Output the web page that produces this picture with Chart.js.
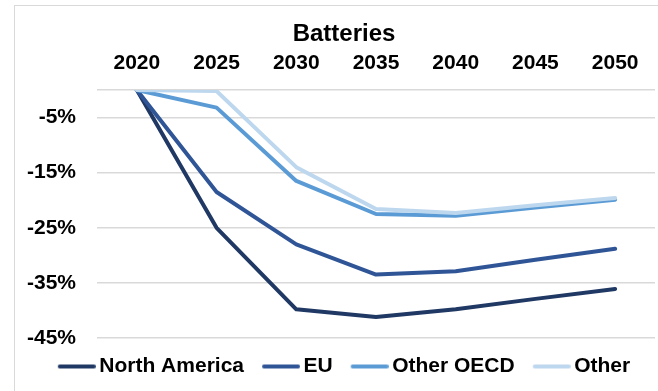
<!DOCTYPE html>
<html>
<head>
<meta charset="utf-8">
<script src="https://cdn.jsdelivr.net/npm/chart.js@4/dist/chart.umd.min.js"></script>
<style>
  html, body { margin: 0; padding: 0; background: #ffffff; }
  #wrap { position: relative; width: 658px; height: 391px; overflow: hidden; }
  #frame { position: absolute; left: 14px; top: 5px; width: 700px; height: 500px; border: 1.5px solid #d9d9d9; box-sizing: border-box; }
  #c { position: absolute; left: 0; top: 0; }
</style>
</head>
<body>
<div id="wrap">
  <div id="frame"></div>
  <canvas id="c" width="668" height="391"></canvas>
</div>
<script>
const chartTitle = 'Batteries';
const years = ['2020', '2025', '2030', '2035', '2040', '2045', '2050'];
const seriesNames = ['North America', 'EU', 'Other OECD', 'Other'];
const northAmerica = [0, -25, -39.8, -41.2, -39.8, -37.9, -36.1];
const eu = [0, -18.5, -28.0, -33.5, -32.9, -30.8, -28.8];
const otherOECD = [0, -3.2, -16.5, -22.5, -22.8, -21.3, -19.9];
const other = [0, -0.2, -14.0, -21.6, -22.3, -20.9, -19.6];
const yTicks = [-45, -35, -25, -15, -5, 0];

const colors = ['#203864', '#2f5597', '#5b9bd5', '#bdd7ee'];
const FONT = '"Liberation Sans", Arial, sans-serif';

function legendLine(color) {
  const cv = document.createElement('canvas');
  cv.width = 45; cv.height = 6;
  const g = cv.getContext('2d');
  g.strokeStyle = color;
  g.lineWidth = 4;
  g.lineCap = 'round';
  g.beginPath();
  g.moveTo(9, 3);
  g.lineTo(43, 3);
  g.stroke();
  return cv;
}
const legendImgs = colors.map(legendLine);

const seriesData = [northAmerica, eu, otherOECD, other];
const datasets = seriesData.map((d, i) => ({
  label: seriesNames[i],
  data: d,
  borderColor: colors[i],
  backgroundColor: colors[i],
  borderWidth: 4,
  pointRadius: 0,
  tension: 0,
  fill: false,
  borderCapStyle: 'round',
  borderJoinStyle: 'round',
  order: 3 - i
}));

new Chart(document.getElementById('c'), {
  type: 'line',
  data: { labels: years, datasets: datasets },
  options: {
    responsive: false,
    animation: false,
    events: [],
    layout: { padding: { left: 20, right: 0, top: 0, bottom: 4 } },
    plugins: {
      title: {
        display: true,
        text: chartTitle,
        color: '#000000',
        font: { family: FONT, size: 24, weight: 'bold' },
        padding: { top: 20, bottom: 0 }
      },
      legend: {
        display: true,
        position: 'bottom',
        labels: {
          usePointStyle: true,
          pointStyleWidth: 31,
          padding: 18,
          color: '#000000',
          font: { family: FONT, size: 21, weight: 'bold' },
          sort: (a, b) => a.datasetIndex - b.datasetIndex,
          generateLabels: (chart) => {
            const items = Chart.defaults.plugins.legend.labels.generateLabels(chart);
            items.forEach(it => { it.pointStyle = legendImgs[it.datasetIndex]; });
            return items;
          }
        }
      },
      tooltip: { enabled: false }
    },
    scales: {
      x: {
        type: 'category',
        position: 'top',
        offset: true,
        grid: { display: false, drawTicks: false },
        border: { display: false },
        ticks: {
          color: '#000000',
          padding: 14,
          maxRotation: 0,
          autoSkip: false,
          font: { family: FONT, size: 21, weight: 'bold' }
        },
        afterFit: (s) => { s.height = 41.2; }
      },
      y: {
        min: -45,
        max: 0,
        grid: { color: '#d9d9d9', lineWidth: 1.5, drawTicks: false },
        border: { display: false },
        afterBuildTicks: (s) => { s.ticks = yTicks.map(v => ({ value: v })); },
        ticks: {
          color: '#000000',
          padding: 21,
          font: { family: FONT, size: 21, weight: 'bold' },
          callback: (v) => (v === 0 ? '' : v + '%')
        },
        afterFit: (s) => { s.width = 77; }
      },
      yRight: {
        position: 'right',
        min: -45,
        max: 0,
        grid: { display: false, drawTicks: false },
        border: { display: false },
        ticks: { display: false },
        afterFit: (s) => { s.width = 13; }
      }
    }
  }
});
</script>
</body>
</html>
